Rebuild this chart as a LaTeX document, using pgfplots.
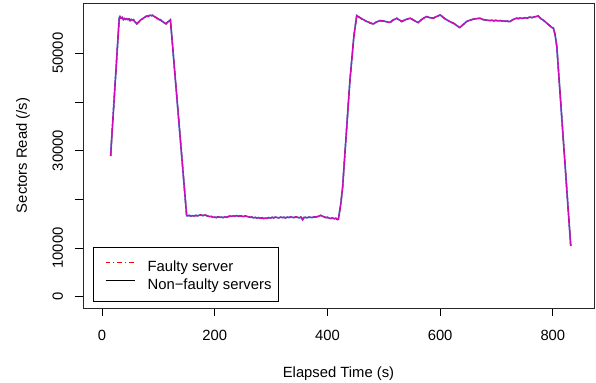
\documentclass[border=0pt]{standalone}
\usepackage{fontspec}
\setmainfont{Liberation Sans}
\usepackage{pgfplots}
\usepackage{pgfplotstable}
\pgfplotsset{compat=1.18}
\definecolor{rmag}{HTML}{CD0BBC}
\definecolor{rblue}{HTML}{2297E6}
\definecolor{rred}{HTML}{FF0000}

\pgfplotstableread{
x y
15.4 28900
30.7 57300
32 57550
34 57200
36 57350
38 56900
40 57150
42 56950
44 57100
46 56900
48 57050
50 56700
52 56950
54 56800
56 56900
58 56500
60 56300
62 56050
64 56300
66 56500
68 56750
70 56950
72 57050
74 57250
76 57400
78 57550
80 57650
82 57550
84 57750
86 57800
88 57700
90 57800
92 57600
94 57450
96 57350
98 57150
100 57050
102 56850
104 56900
106 56600
108 56500
110 56300
112 56150
114 56050
116 56350
118 56500
120 56700
121.5 56850
150.3 16650
152 16600
155 16700
158 16550
161 16650
164 16600
167 16700
170 16600
173 16750
176 16800
179 16650
182 16750
185 16700
188 16550
191 16450
194 16500
197 16300
200 16350
203 16250
206 16400
209 16300
212 16350
215 16250
218 16400
221 16300
224 16450
227 16550
230 16500
233 16600
236 16550
239 16650
242 16500
245 16600
248 16550
251 16450
254 16600
257 16500
260 16400
263 16300
266 16350
269 16200
272 16300
275 16150
278 16250
281 16100
284 16200
287 16050
290 16150
293 16100
296 16250
299 16150
302 16300
305 16200
308 16350
311 16250
314 16200
317 16350
320 16250
323 16300
326 16200
329 16350
332 16250
335 16400
338 16300
341 16250
344 16400
347 16300
350 16200
353 16350
356 15800
358 16250
361 16300
364 16200
367 16350
370 16300
373 16250
376 16400
379 16350
382 16450
385 16550
388 16700
391 16550
394 16400
397 16250
400 16300
403 16150
406 16050
409 16200
412 16000
415 16100
418 15850
419.5 15900
421 17000
424 19300
427 22500
440 44500
447 53500
452 57740
455 57500
458 57300
461 57060
464 56900
467 56700
470 56510
473 56400
476 56200
479 56100
482 56030
485 56300
488 56450
491 56600
494 56710
497 56600
500 56650
503 56500
506 56450
509 56350
512 56400
515 56700
518 56900
521 57050
523 57190
526 56950
529 56750
532 56510
535 56700
538 56850
541 57000
544 57100
547 57190
550 57000
553 56800
556 56600
559 56400
561 56300
564 56600
567 56900
570 57150
573 57350
576 57540
579 57400
582 57300
585 57250
588 57190
591 57400
594 57550
597 57700
600 57880
603 57600
606 57300
609 57050
612 56850
615 56650
618 56450
621 56300
624 56150
627 55900
630 55650
633 55400
635 55270
638 55600
641 55900
644 56200
647 56510
650 56650
653 56800
656 56900
659 56990
662 57050
665 57100
668 57150
671 57190
674 57000
677 56900
680 56850
683 56800
686 56750
689 56710
692 56800
695 56650
698 56750
701 56700
704 56650
707 56710
710 56600
713 56650
716 56550
719 56600
722 56500
724 56510
727 56750
730 56950
733 57100
736 57190
739 57100
742 57250
745 57150
748 57200
751 57300
754 57190
757 57350
760 57400
763 57300
766 57450
769 57500
772 57600
774 57670
777 57300
780 57000
783 56800
786 56500
789 56200
792 55900
795 55620
798 55300
801 55150
804 53770
807 51370
831.7 10420
}\srv

\begin{document}
\fontsize{14.8bp}{17bp}\selectfont
\begin{tikzpicture}
\useasboundingbox (-83bp,-75bp) rectangle (513bp,308bp);
\begin{axis}[
  scale only axis, width=511bp, height=305bp,
  xmin=-33.6, xmax=873, ymin=-2320, ymax=60320,
  xtick={0,200,400,600,800},
  ytick={0,10000,20000,30000,40000,50000},
  yticklabels={0,10000,,30000,,50000},
  scaled y ticks=false,
  tick align=outside, tick pos=left,
  major tick length=8bp,
  tick style={black, line width=0.8bp},
  axis line style={black!85, line width=0.8bp},
  /pgf/number format/assume math mode=true,
  xticklabel style={anchor=base, inner sep=0pt},
  yticklabel style={rotate=90, anchor=base, inner sep=0pt},
  xticklabel shift=24.6bp,
  yticklabel shift=12bp,
  legend cell align=left,
  legend style={at={(0.0202,0.0216)}, anchor=south west, draw=black, line width=0.8bp,
    inner xsep=7bp, inner ysep=8.7bp, row sep=0.6bp, column sep=12.4bp,
    nodes={inner sep=0pt, text height=14.7bp, text depth=3bp}},
]
\addlegendimage{legend image code/.code={\path[draw=none] (0bp,0bp) -- (5bp,0bp); \path[draw=rred, line width=1.1bp, dash pattern=on 4.5bp off 3bp on 1.2bp off 3bp] (5bp,2.8bp) -- (34bp,2.8bp);}}
\addlegendentry{Faulty server}
\addlegendimage{legend image code/.code={\path[draw=none] (0bp,0bp) -- (5bp,0bp); \path[draw=black, solid, line width=1.1bp] (5bp,2.8bp) -- (34bp,2.8bp);}}
\addlegendentry{Non−faulty servers}
\addplot[forget plot, rblue, line width=1.7bp] table[x=x,y=y] {\srv};
\addplot[forget plot, rred, line width=1.3bp, dash pattern=on 4.5bp off 3bp on 1.2bp off 3bp] table[x=x,y=y] {\srv};
\addplot[forget plot, rmag, line width=1.2bp] table[x=x,y=y] {\srv};
\end{axis}
\node[anchor=base] at (255.5bp,-69bp) {Elapsed Time (s)};
\node[rotate=90, anchor=base] at (-56bp,152.5bp) {Sectors Read (/s)};
\end{tikzpicture}
\end{document}
